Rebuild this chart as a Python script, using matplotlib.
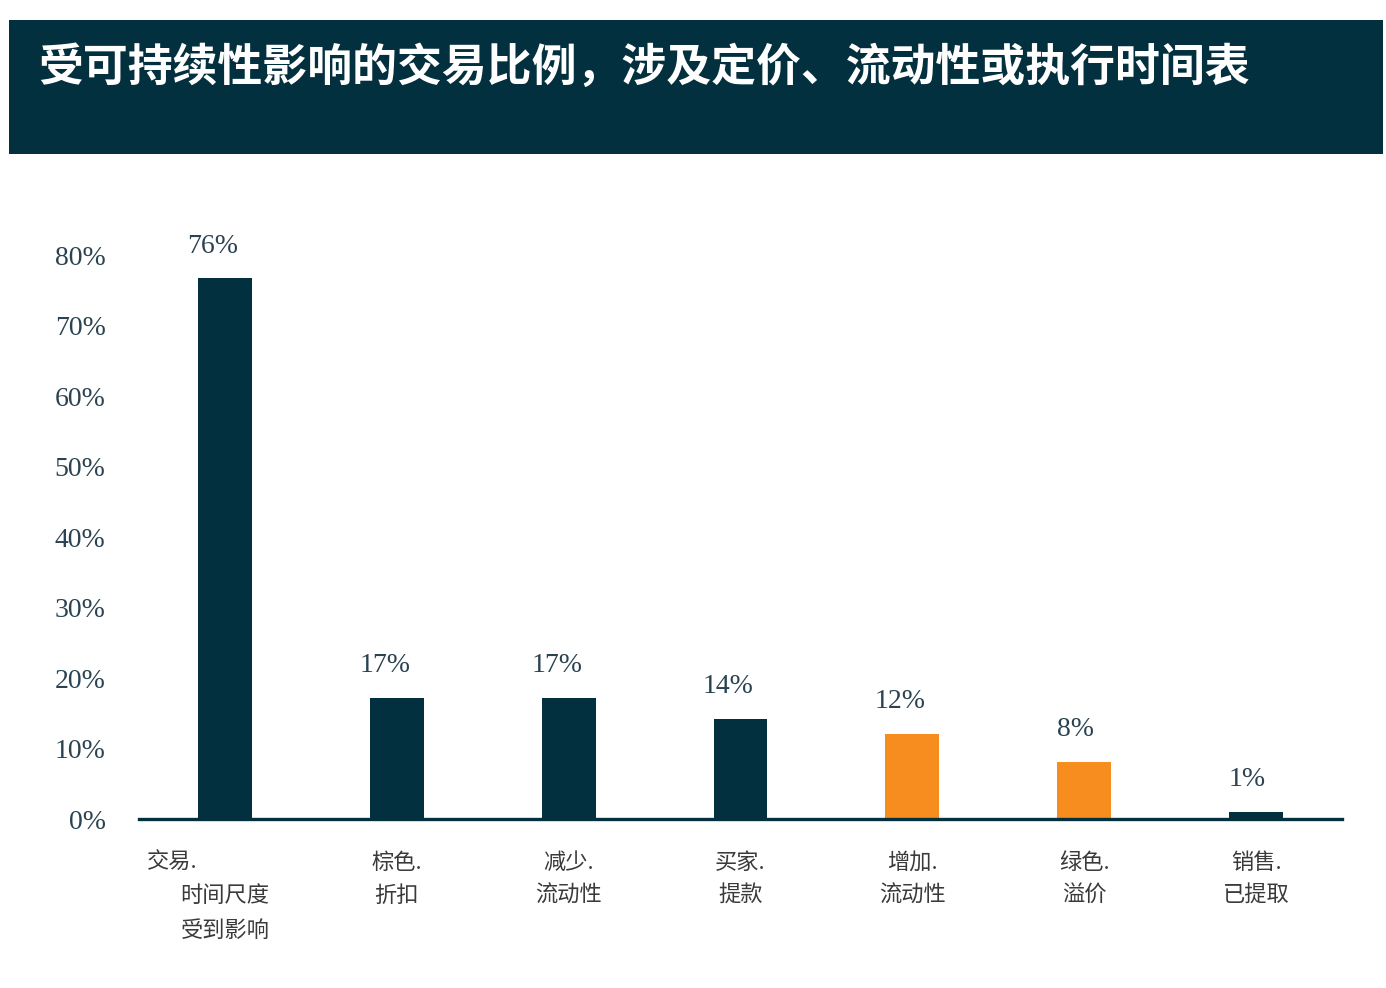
import matplotlib
matplotlib.use("Agg")
import matplotlib.pyplot as plt
from matplotlib.patches import Rectangle
from matplotlib import transforms

# ---- data ----
title = "受可持续性影响的交易比例，涉及定价、流动性或执行时间表"
categories = [
    ["交易.", "时间尺度", "受到影响"],
    ["棕色.", "折扣"],
    ["减少.", "流动性"],
    ["买家.", "提款"],
    ["增加.", "流动性"],
    ["绿色.", "溢价"],
    ["销售.", "已提取"],
]
values = [76.7, 17.2, 17.2, 14.2, 12.1, 8.1, 1.0]
value_labels = ["76%", "17%", "17%", "14%", "12%", "8%", "1%"]
yticks = [0, 10, 20, 30, 40, 50, 60, 70, 80]
ytick_labels = ["0%", "10%", "20%", "30%", "40%", "50%", "60%", "70%", "80%"]

DARK = "#03303e"
ORANGE = "#f78d1e"
bar_colors = [DARK, DARK, DARK, DARK, ORANGE, ORANGE, DARK]

W, H = 1386, 988
fig = plt.figure(figsize=(W / 100, H / 100), dpi=100)

# title banner
fig.patches.append(Rectangle((9 / W, (H - 154) / H), (1383 - 9) / W, 134 / H,
                             transform=fig.transFigure, facecolor=DARK,
                             edgecolor="none", zorder=0))
fig.text(38 / W, (H - 68) / H, title, color="white", fontsize=32.3,
         fontweight="bold", family=["Noto Sans CJK SC", "DejaVu Sans"],
         ha="left", va="center")

ax = fig.add_axes([139 / W, (H - 819) / H, 1203 / W, (819 - 241) / H])
x = list(range(len(values)))
ax.bar(x, values, width=0.314, color=bar_colors, zorder=2)
ax.set_xlim(-0.5, 6.5)
ax.set_ylim(0, 82)
for s in ["top", "right", "left"]:
    ax.spines[s].set_visible(False)
ax.spines["bottom"].set_color(DARK)
ax.spines["bottom"].set_linewidth(2.4)
ax.spines["bottom"].set_zorder(3)
ax.set_xticks([])
ax.set_yticks(yticks)
ax.set_yticklabels(ytick_labels, family="Liberation Serif", fontsize=20,
                   color="#2b4350")
ax.tick_params(axis="y", length=0, pad=24)

serif = "Liberation Serif"
for i, (v, lab) in enumerate(zip(values, value_labels)):
    dx = -12 if len(lab) > 2 else -9
    tr = transforms.offset_copy(ax.transData, fig=fig, x=dx, y=32, units="dots")
    ax.text(i, v, lab, transform=tr, ha="center", va="center",
            family=serif, fontsize=20, color="#2b4350", clip_on=False)

cjk = ["Noto Sans CJK SC", "DejaVu Sans"]
line_dy = [-43, -76, -111]
for i, lines in enumerate(categories):
    for j, line in enumerate(lines):
        if i == 0 and j == 0:
            tr = transforms.offset_copy(ax.transData, fig=fig, x=-78,
                                        y=line_dy[j], units="dots")
            ha = "left"
        else:
            tr = transforms.offset_copy(ax.transData, fig=fig, x=0,
                                        y=line_dy[j], units="dots")
            ha = "center"
        ax.text(i, 0, line, transform=tr, ha=ha, va="center", family=cjk,
                fontsize=16, color="#3a3a3a", clip_on=False)

fig.savefig("out.png", dpi=100)
